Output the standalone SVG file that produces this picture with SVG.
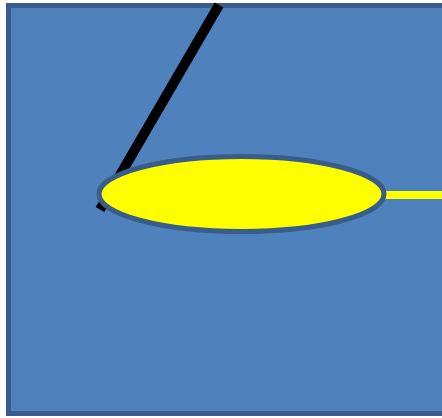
<svg xmlns="http://www.w3.org/2000/svg" width="442" height="418" viewBox="0 0 442 418">
<style>
.bg{fill:#4f81bd;stroke:#385d8a;stroke-width:5}
.ell{fill:#ffff00;stroke:#385d8a;stroke-width:5}
</style>
<rect width="442" height="418" fill="#ffffff"/>
<g id="panel"><rect class="bg" x="8.5" y="5.5" width="450" height="408"/></g>
<g id="connectors">
<line x1="219" y1="5" x2="100" y2="209.5" stroke="#000000" stroke-width="10"/>
<line x1="384" y1="195" x2="445" y2="195" stroke="#ffff00" stroke-width="8"/>
</g>
<g id="ellipse"><ellipse class="ell" cx="241.5" cy="194" rx="142.5" ry="37.5"/></g>
</svg>
